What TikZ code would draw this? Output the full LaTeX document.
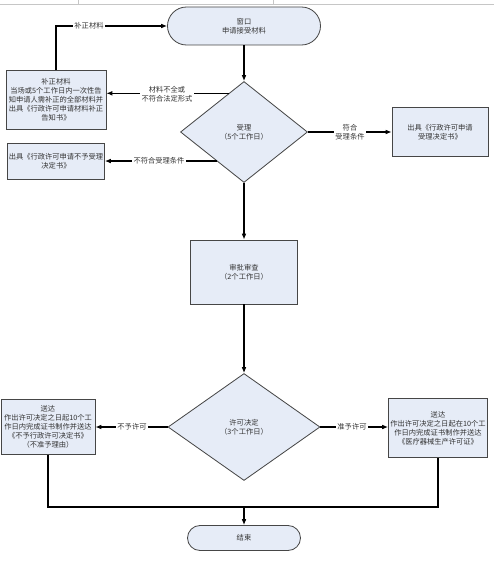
\documentclass[tikz,border=0pt]{standalone}
\usepackage{fontspec}
\newfontfamily\cjk{Noto Sans CJK SC}
\usetikzlibrary{shapes.geometric, arrows.meta, calc, positioning}
\definecolor{boxfill}{RGB}{230,236,247}
\definecolor{boxline}{RGB}{70,70,70}

\begin{document}
\begin{tikzpicture}[x=0.03cm, y=-0.03cm,
    every node/.style={font=\cjk\fontsize{6.2}{7.7}\selectfont, text=black!80, align=center},
    box/.style={draw=boxline, line width=0.7pt, fill=boxfill, inner sep=1pt},
    term/.style={box},
    dec/.style={diamond, draw=boxline, line width=0.7pt, fill=boxfill, inner sep=0pt, aspect=1.25},
    lbl/.style={fill=white, inner sep=1pt},
    line/.style={draw=black, line width=0.9pt},
    flow/.style={line, -{Latex[length=5pt,width=4pt]}}]
    \useasboundingbox (0,0) rectangle (494,567);
    % strip of the window frame at the top
    \draw[gray!45] (0,4) -- (494,4) (78,0) -- (78,4) (273,0) -- (273,4);

    \node[term, minimum width=4.59cm, minimum height=1.14cm, rounded corners=0.57cm] (win) at (244,26) {窗口\\申请接受材料};
    \node[dec, minimum width=3.81cm, minimum height=3.03cm] (acc) at (244,132) {受理\\（5个工作日）};
    \node[box, minimum width=3cm, minimum height=1.77cm] (fix) at (56,100) {补正材料\\当场或5个工作日内一次性告\\知申请人需补正的全部材料并\\出具《行政许可申请材料补正\\告知书》};
    \node[box, minimum width=2.91cm, minimum height=1.08cm] (rej) at (56,161) {出具《行政许可申请不予受理\\决定书》};
    \node[box, minimum width=2.88cm, minimum height=1.47cm] (ok) at (440,132) {出具《行政许可申请\\受理决定书》};
    \node[box, minimum width=3.21cm, minimum height=1.92cm] (rev) at (244,272) {审批审查\\（2个工作日）};
    \node[dec, minimum width=4.56cm, minimum height=3.21cm] (dcs) at (244,427) {许可决定\\（3个工作日）};
    \node[box, minimum width=2.82cm, minimum height=1.65cm] (deny) at (48,427) {送达\\作出许可决定之日起10个工\\作日内完成证书制作并送达\\《不予行政许可决定书》\\（不准予理由）};
    \node[box, minimum width=2.97cm, minimum height=1.77cm] (grant) at (438,428) {送达\\作出许可决定之日起在10个工\\作日内完成证书制作并送达\\《医疗器械生产许可证》};
    \node[term, minimum width=3.39cm, minimum height=0.75cm, rounded corners=0.375cm] (fin) at (244,538) {结束};

    % main line
    \draw[flow] (win) -- (acc);
    \draw[flow] (acc) -- (rev);
    \draw[flow] (rev) -- (dcs);

    % back to the window
    \coordinate (a1) at ($(acc.north)!0.24!(acc.west)$);
    \draw[flow] (a1) -- (a1 -| fix.east);
    \node[lbl] (l1) at (167,94) {材料不全或\\不符合法定形式};
    \draw[flow] (fix.north) |- (win.west);
    \node[lbl] (l2) at (89,26) {补正材料};

    \draw[flow] (acc.east) -- (ok.west);
    \node[lbl] (l3) at (350,132) {符合\\受理条件};
    \coordinate (a2) at ($(acc.west)!0.57!(acc.south)$);
    \draw[flow] (a2) -- (a2 -| rej.east);
    \node[lbl] (l4) at (159,161) {不符合受理条件};

    % decision
    \draw[flow] (dcs.west) -- (deny.east);
    \node[lbl] (l5) at (132,427) {不予许可};
    \draw[flow] (dcs.east) -- (dcs.east -| grant.west);
    \node[lbl] (l6) at (352,427) {准予许可};

    \coordinate (join) at (244,507);
    \draw[line] (deny.south) |- (join) -| (grant.south);
    \draw[flow] (join) -- (fin);
\end{tikzpicture}
\end{document}
